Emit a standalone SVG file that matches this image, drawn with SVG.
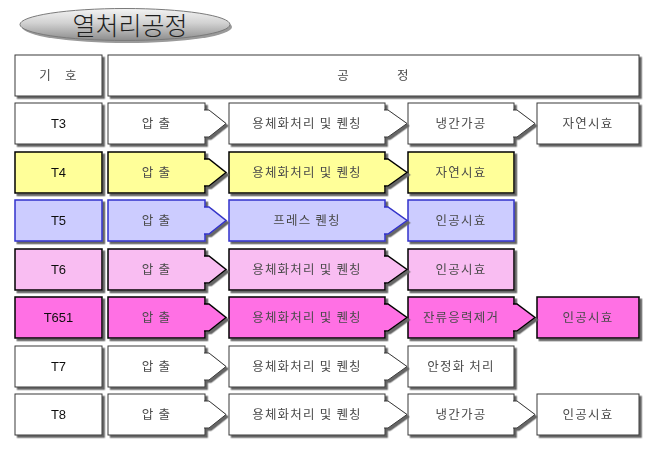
<svg xmlns="http://www.w3.org/2000/svg" width="650" height="450" viewBox="0 0 650 450">
<defs>
<linearGradient id="gTitle" x1="0" y1="0" x2="0" y2="1">
<stop offset="0" stop-color="#f4f4f4"/>
<stop offset="0.45" stop-color="#d2d2d2"/>
<stop offset="1" stop-color="#8c8c8c"/>
</linearGradient>
<filter id="sh" x="-10%" y="-10%" width="125%" height="140%">
<feDropShadow dx="2.4" dy="2.4" stdDeviation="0.6" flood-color="#666666" flood-opacity="1"/>
</filter>
</defs>
<style>
.box{stroke-linejoin:miter}
.w{fill:#ffffff;stroke:#3a3a3a;stroke-width:1}
.y{fill:#ffff99;stroke:#000;stroke-width:1.5}
.b{fill:#ccccff;stroke:#3333cc;stroke-width:1.5}
.p{fill:#f9bdf2;stroke:#000;stroke-width:1.5}
.m{fill:#ff70e4;stroke:#000;stroke-width:1.5}
.lbl{font-family:"Noto Sans CJK KR","Liberation Sans",sans-serif;font-size:12.5px;fill:#4a4a4a;text-anchor:middle;letter-spacing:1.2px}
.code{font-family:"Liberation Sans","Noto Sans CJK KR",sans-serif;font-size:13px;fill:#111;text-anchor:middle}
.title{font-family:"Noto Sans CJK KR",sans-serif;font-size:25px;font-weight:300;fill:#1e1e1e;text-anchor:middle}
</style>

<g id="title">
<ellipse cx="127" cy="27" rx="105" ry="16" fill="#9a9a9a"/>
<ellipse cx="125" cy="24.5" rx="105" ry="16" fill="url(#gTitle)" stroke="#7a7a7a" stroke-width="1"/>
<text class="title" x="130" y="35">열처리공정</text>
</g>

<g id="header" filter="url(#sh)">
<g id="h-code"><rect class="w" x="15" y="55" width="87" height="41"/><text class="lbl" x="58.5" y="80" word-spacing="9">기 호</text></g>
<g id="h-proc"><rect class="w" x="108" y="55" width="531" height="41"/><text class="lbl" x="373.5" y="80" word-spacing="43">공 정</text></g>
</g>

<!-- T3 -->
<g id="row-T3" filter="url(#sh)">
<g id="T3-code"><rect class="w" x="15" y="103" width="87" height="41"/><text class="code" x="58.5" y="128">T3</text></g>
<g id="T3-1"><rect class="w" x="108" y="103" width="97" height="41"/><text class="lbl" x="156.5" y="128">압 출</text></g>
<g id="T3-2"><rect class="w" x="229" y="103" width="156" height="41"/><text class="lbl" x="307" y="128">용체화처리 및 퀜칭</text></g>
<g id="T3-3"><rect class="w" x="408" y="103" width="106" height="41"/><text class="lbl" x="461" y="128">냉간가공</text></g>
<g id="T3-4"><rect class="w" x="537" y="103" width="102" height="41"/><text class="lbl" x="588" y="128">자연시효</text></g>
</g>

<!-- T4 -->
<g id="row-T4" filter="url(#sh)">
<g id="T4-code"><rect class="y" x="15" y="152" width="87" height="41"/><text class="code" x="58.5" y="177">T4</text></g>
<g id="T4-1"><rect class="y" x="108" y="152" width="97" height="41"/><text class="lbl" x="156.5" y="177">압 출</text></g>
<g id="T4-2"><rect class="y" x="229" y="152" width="156" height="41"/><text class="lbl" x="307" y="177">용체화처리 및 퀜칭</text></g>
<g id="T4-3"><rect class="y" x="408" y="152" width="106" height="41"/><text class="lbl" x="461" y="177">자연시효</text></g>
</g>

<!-- T5 -->
<g id="row-T5" filter="url(#sh)">
<g id="T5-code"><rect class="b" x="15" y="200" width="87" height="41"/><text class="code" x="58.5" y="225">T5</text></g>
<g id="T5-1"><rect class="b" x="108" y="200" width="97" height="41"/><text class="lbl" x="156.5" y="225">압 출</text></g>
<g id="T5-2"><rect class="b" x="229" y="200" width="156" height="41"/><text class="lbl" x="307" y="225">프레스 퀜칭</text></g>
<g id="T5-3"><rect class="b" x="408" y="200" width="106" height="41"/><text class="lbl" x="461" y="225">인공시효</text></g>
</g>

<!-- T6 -->
<g id="row-T6" filter="url(#sh)">
<g id="T6-code"><rect class="p" x="15" y="249" width="87" height="41"/><text class="code" x="58.5" y="274">T6</text></g>
<g id="T6-1"><rect class="p" x="108" y="249" width="97" height="41"/><text class="lbl" x="156.5" y="274">압 출</text></g>
<g id="T6-2"><rect class="p" x="229" y="249" width="156" height="41"/><text class="lbl" x="307" y="274">용체화처리 및 퀜칭</text></g>
<g id="T6-3"><rect class="p" x="408" y="249" width="106" height="41"/><text class="lbl" x="461" y="274">인공시효</text></g>
</g>

<!-- T651 -->
<g id="row-T651" filter="url(#sh)">
<g id="T651-code"><rect class="m" x="15" y="297" width="87" height="41"/><text class="code" x="58.5" y="322">T651</text></g>
<g id="T651-1"><rect class="m" x="108" y="297" width="97" height="41"/><text class="lbl" x="156.5" y="322">압 출</text></g>
<g id="T651-2"><rect class="m" x="229" y="297" width="156" height="41"/><text class="lbl" x="307" y="322">용체화처리 및 퀜칭</text></g>
<g id="T651-3"><rect class="m" x="408" y="297" width="106" height="41"/><text class="lbl" x="461" y="322">잔류응력제거</text></g>
<g id="T651-4"><rect class="m" x="537" y="297" width="102" height="41"/><text class="lbl" x="588" y="322">인공시효</text></g>
</g>

<!-- T7 -->
<g id="row-T7" filter="url(#sh)">
<g id="T7-code"><rect class="w" x="15" y="346" width="87" height="41"/><text class="code" x="58.5" y="371">T7</text></g>
<g id="T7-1"><rect class="w" x="108" y="346" width="97" height="41"/><text class="lbl" x="156.5" y="371">압 출</text></g>
<g id="T7-2"><rect class="w" x="229" y="346" width="156" height="41"/><text class="lbl" x="307" y="371">용체화처리 및 퀜칭</text></g>
<g id="T7-3"><rect class="w" x="408" y="346" width="106" height="41"/><text class="lbl" x="461" y="371">안정화 처리</text></g>
</g>

<!-- T8 -->
<g id="row-T8" filter="url(#sh)">
<g id="T8-code"><rect class="w" x="15" y="394" width="87" height="41"/><text class="code" x="58.5" y="419">T8</text></g>
<g id="T8-1"><rect class="w" x="108" y="394" width="97" height="41"/><text class="lbl" x="156.5" y="419">압 출</text></g>
<g id="T8-2"><rect class="w" x="229" y="394" width="156" height="41"/><text class="lbl" x="307" y="419">용체화처리 및 퀜칭</text></g>
<g id="T8-3"><rect class="w" x="408" y="394" width="106" height="41"/><text class="lbl" x="461" y="419">냉간가공</text></g>
<g id="T8-4"><rect class="w" x="537" y="394" width="102" height="41"/><text class="lbl" x="588" y="419">인공시효</text></g>
</g>

<g id="connectors" filter="url(#sh)">
<!-- T3 -->
<path class="w" d="M204,110 H209 L226,123.5 L209,137 H204"/>
<path class="w" d="M384,110 H388 L407,123.5 L388,137 H384"/>
<path class="w" d="M513,110 H517 L535,123.5 L517,137 H513"/>
<!-- T4 -->
<path class="y" d="M204,159 H209 L226,172.5 L209,186 H204"/>
<path class="y" d="M384,159 H388 L407,172.5 L388,186 H384"/>
<!-- T5 -->
<path class="b" d="M204,207 H209 L226,220.5 L209,234 H204"/>
<path class="b" d="M384,207 H388 L407,220.5 L388,234 H384"/>
<!-- T6 -->
<path class="p" d="M204,256 H209 L226,269.5 L209,283 H204"/>
<path class="p" d="M384,256 H388 L407,269.5 L388,283 H384"/>
<!-- T651 -->
<path class="m" d="M204,304 H209 L226,317.5 L209,331 H204"/>
<path class="m" d="M384,304 H388 L407,317.5 L388,331 H384"/>
<path class="m" d="M513,304 H517 L535,317.5 L517,331 H513"/>
<!-- T7 -->
<path class="w" d="M204,353 H209 L226,366.5 L209,380 H204"/>
<path class="w" d="M384,353 H388 L407,366.5 L388,380 H384"/>
<!-- T8 -->
<path class="w" d="M204,401 H209 L226,414.5 L209,428 H204"/>
<path class="w" d="M384,401 H388 L407,414.5 L388,428 H384"/>
<path class="w" d="M513,401 H517 L535,414.5 L517,428 H513"/>
</g>
</svg>
